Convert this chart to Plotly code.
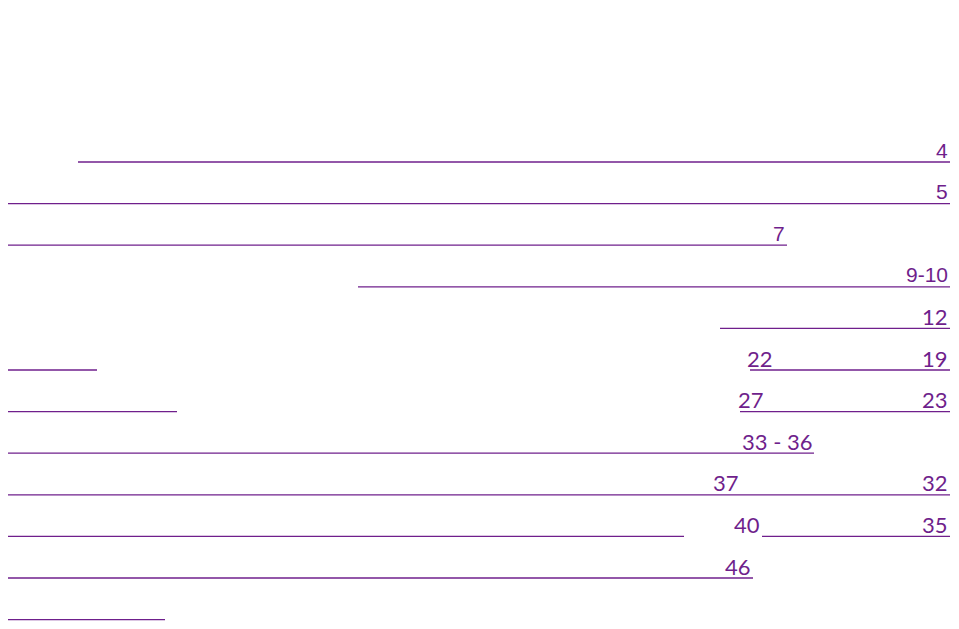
import plotly.graph_objects as go

title = "OBSAH"
entries = [
    "Úvod,",
    "Kdy se jedná o tepelný stres u skotu?",
    "Příčiny tepelného stresu,termoregulační mechanismy, adaptace",
    "Chování skotu při tepelném stresu",
    "Evaporační ochlazování jako možnost redukce tepelného stresu u dojnic 13",
    "Působení výživy a krmení při tepelném stresu u skotu - I.",
    "Působení výživy a krmení při eliminaci tepelného stresu - II.",
    "Technika krmení, zakrmování, přihrnování, restrikce krmné dávky",
    "Využití  zchlazené  napájecí vody",
    "Působení vysokých teplot prostředí na reprodukční užitkovost dojnic",
    "Použitá literatura,kontakt",
    "Kontrolní otázky",
]
old_pages = ["", "", "", "", "", "22", "27", "", "37", "40", "", ""]
new_pages = ["4", "5", "7", "9-10", "12", "19", "23", "33 - 36", "32", "35", "46", ""]
# x position (px) where the page numbers end
page_right = [950, 950, 787, 950, 950, 950, 950, 814, 950, 950, 753, None]
old_right = [None, None, None, None, None, 775, 766, None, 741, 762, None, None]
# underline segments (start, end) in px
underlines = [
    [(78, 950)],
    [(3, 950)],
    [(3, 787)],
    [(358, 950)],
    [(720, 950)],
    [(3, 97), (750, 950)],
    [(3, 177), (740, 950)],
    [(3, 814)],
    [(3, 950)],
    [(3, 684), (762, 950)],
    [(3, 753)],
    [(3, 165)],
]

purple = "#6f1f8c"
W, H = 959, 629
M = 8  # page body margin
row0, step = 150, 41.6

fig = go.Figure()
xs, ys = [], []
annotations = [dict(x=2, y=22, text=title, showarrow=False, xanchor="left",
                    yanchor="middle", font=dict(size=34, color="black",
                                                 family="Liberation Sans"))]
for i, text in enumerate(entries):
    y = row0 + i * step
    fam = "Liberation Sans" if i < 4 else "Lato"
    size = 21 if i < 4 else 22
    f = dict(size=size, color=purple, family=fam)
    annotations.append(dict(x=2, y=y, text=text, showarrow=False, xanchor="left",
                            yanchor="middle", font=f))
    if new_pages[i]:
        annotations.append(dict(x=page_right[i], y=y, text=new_pages[i], showarrow=False,
                                xanchor="right", yanchor="middle", font=f))
    if old_pages[i]:
        annotations.append(dict(x=old_right[i], y=y, text=old_pages[i], showarrow=False,
                                xanchor="right", yanchor="middle", font=f))
    for a, b in underlines[i]:
        xs += [a, b, None]
        ys += [y + 12, y + 12, None]

fig.add_trace(go.Scatter(x=xs, y=ys, mode="lines", line=dict(color=purple, width=1.3),
                         hoverinfo="skip", showlegend=False))
fig.update_layout(
    width=W - 2 * M, height=H - 2 * M, margin=dict(l=0, r=0, t=0, b=0),
    paper_bgcolor="white", plot_bgcolor="white",
    xaxis=dict(range=[M, W - M], visible=False),
    yaxis=dict(range=[H - M, M], visible=False),
    annotations=annotations,
)
fig.write_html("out.html")
